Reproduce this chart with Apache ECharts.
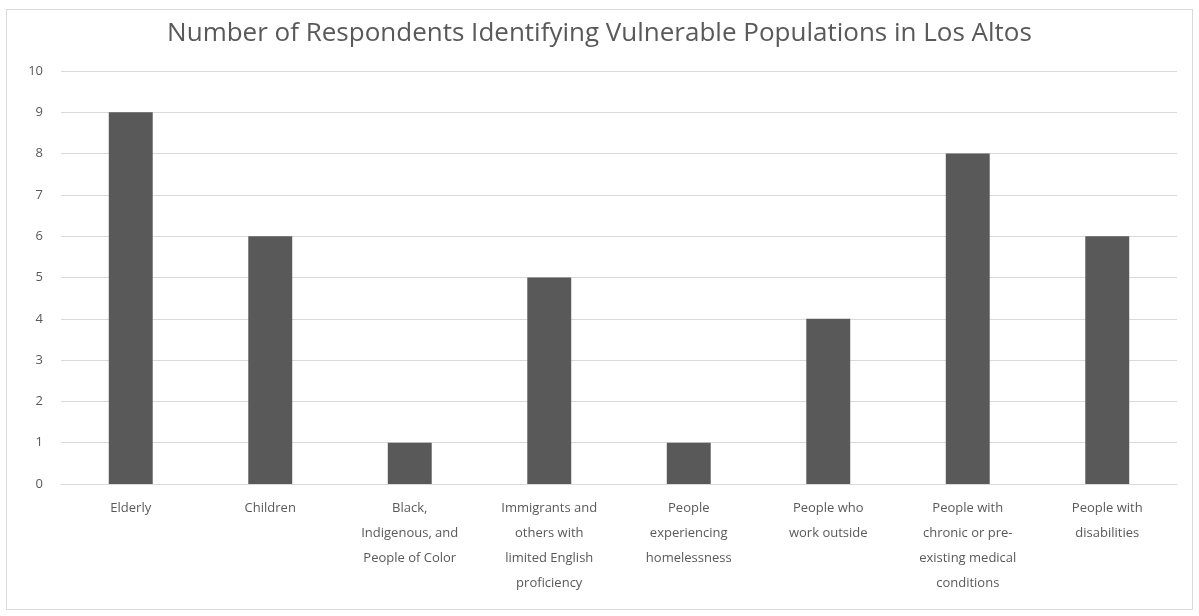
<!DOCTYPE html>
<html>
<head>
<meta charset="utf-8">
<script src="https://cdn.jsdelivr.net/npm/echarts@6/dist/echarts.min.js"></script>
<style>
  html, body { margin: 0; padding: 0; background: #fff; }
  #chart { position: absolute; left: 6px; top: 9px; width: 1187px; height: 601px; border: 1px solid #d9d9d9; box-sizing: border-box; }
</style>
</head>
<body>
<div id="chart"></div>
<script>
// categories (line breaks as in the original)
var categories = [
    'Elderly',
    'Children',
    'Black,\nIndigenous, and\nPeople of Color',
    'Immigrants and\nothers with\nlimited English\nproficiency',
    'People\nexperiencing\nhomelessness',
    'People who\nwork outside',
    'People with\nchronic or pre-\nexisting medical\nconditions',
    'People with\ndisabilities'
];
var respondents = [9, 6, 1, 5, 1, 4, 8, 6];

var myChart = echarts.init(document.getElementById('chart'));
var option = {
    animation: false,
    title: {
        text: 'Number of Respondents Identifying Vulnerable Populations in Los Altos',
        left: 'center',
        top: 6,
        textStyle: {
            color: '#595959',
            fontSize: 26,
            fontWeight: 'normal',
            fontFamily: 'Open Sans'
        }
    },
    grid: {
        left: 54,
        right: 15,
        top: 61,
        bottom: 125
    },
    xAxis: {
        type: 'category',
        data: categories,
        axisTick: { show: false },
        axisLine: { lineStyle: { color: '#d9d9d9' } },
        axisLabel: {
            interval: 0,
            color: '#595959',
            fontSize: 13,
            lineHeight: 25,
            margin: 12,
            fontFamily: 'Open Sans'
        }
    },
    yAxis: {
        type: 'value',
        min: 0,
        max: 10,
        interval: 1,
        axisLine: { show: false },
        axisTick: { show: false },
        splitLine: { lineStyle: { color: '#d9d9d9' } },
        axisLabel: {
            color: '#595959',
            fontSize: 13,
            margin: 18,
            fontFamily: 'Open Sans'
        }
    },
    series: [
        {
            name: 'Respondents',
            type: 'bar',
            barWidth: '31.5%',
            data: respondents,
            itemStyle: { color: '#595959' }
        }
    ]
};
myChart.setOption(option);
</script>
</body>
</html>
